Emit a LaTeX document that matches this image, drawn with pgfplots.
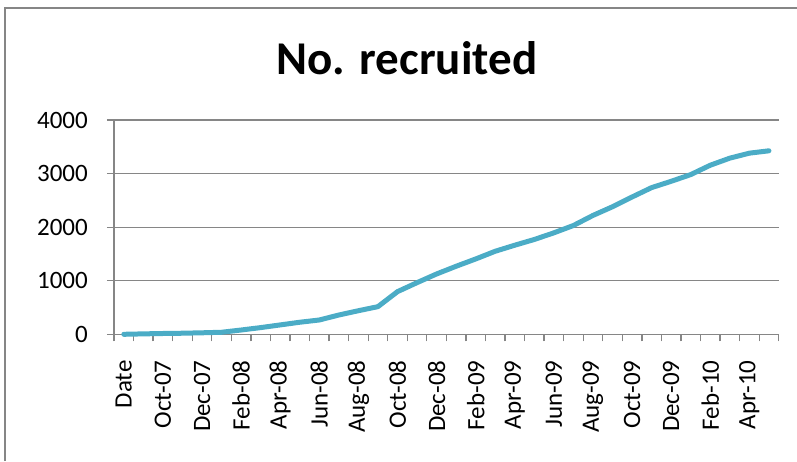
\documentclass[border=0pt]{standalone}
\usepackage{pgfplots}
\pgfplotsset{compat=1.18}
\usepackage{fontspec}
\setmainfont{Carlito}
\definecolor{axgray}{HTML}{868686}
\definecolor{lineblue}{HTML}{4BACC6}
\newcommand\tl{\fontsize{25}{30}\selectfont}
\begin{document}
\begin{tikzpicture}[x=1pt,y=1pt]
\useasboundingbox (0,0) rectangle (797,461);
\draw[axgray, line width=1.5pt] (5,0) -- (5,453) -- (797,453);
\node[anchor=base, font=\fontsize{47}{56}\selectfont\bfseries] at (407,386) {No. recruited};
\begin{axis}[
  at={(114pt,126.7pt)}, anchor=south west,
  scale only axis, width=664.7pt, height=214.3pt,
  xmin=-0.5, xmax=33.5, ymin=0, ymax=4000,
  axis lines*=left,
  axis line style={axgray, line width=1.5pt},
  ytick={0,1000,2000,3000,4000},
  yticklabels={{\tl 0},{\tl 1000},{\tl 2000},{\tl 3000},{\tl 4000}},
  ymajorgrids, major grid style={axgray, line width=1.3pt},
  xtick={0,2,...,32},
  xticklabels={{\tl Date},{\tl Oct-07},{\tl Dec-07},{\tl Feb-08},{\tl Apr-08},{\tl Jun-08},{\tl Aug-08},{\tl Oct-08},{\tl Dec-08},{\tl Feb-09},{\tl Apr-09},{\tl Jun-09},{\tl Aug-09},{\tl Oct-09},{\tl Dec-09},{\tl Feb-10},{\tl Apr-10}},
  minor xtick={-0.5,0.5,...,33.5},
  tick align=outside,
  major x tick style={draw=none},
  minor tick length=7pt, major tick length=7pt,
  tick style={axgray, line width=1.3pt},
  xticklabel style={rotate=90, anchor=east, inner sep=0pt},
  yticklabel style={anchor=east, inner sep=0pt},
  xticklabel shift=19pt,
  yticklabel shift=19pt,
  clip=false,
]
\addplot[lineblue, line width=5pt, line join=round, line cap=round] coordinates {
(0,0) (1,8) (2,15) (3,20) (4,28) (5,38) (6,80) (7,125) (8,175) (9,225)
(10,267) (11,360) (12,440) (13,516) (14,796) (15,964) (16,1126) (17,1270)
(18,1406) (19,1550) (20,1663) (21,1770) (22,1894) (23,2031) (24,2219)
(25,2381) (26,2563) (27,2738) (28,2856) (29,2981) (30,3156) (31,3288)
(32,3381) (33,3425)
};
\end{axis}
\end{tikzpicture}
\end{document}
